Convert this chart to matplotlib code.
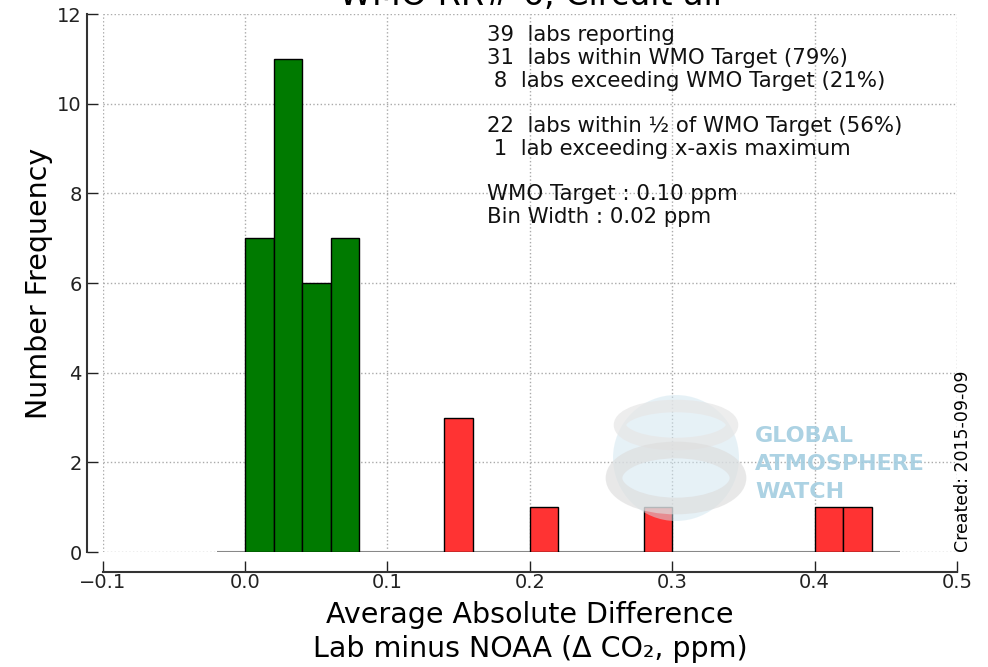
import matplotlib
matplotlib.use("Agg")
import matplotlib.pyplot as plt
from matplotlib.patches import Ellipse

# histogram bins (left edge, ppm) and counts
bin_width = 0.02
within_left = [0.00, 0.02, 0.04, 0.06]
within_count = [7, 11, 6, 7]
exceed_left = [0.14, 0.20, 0.28, 0.40, 0.42]
exceed_count = [3, 1, 1, 1, 1]
hist_range = (-0.02, 0.46)

x_ticks = [-0.1, 0.0, 0.1, 0.2, 0.3, 0.4, 0.5]
y_ticks = [0, 2, 4, 6, 8, 10, 12]

summary = ("39  labs reporting\n"
           "31  labs within WMO Target (79%)\n"
           " 8  labs exceeding WMO Target (21%)\n"
           "\n"
           "22  labs within \u00bd of WMO Target (56%)\n"
           " 1  lab exceeding x-axis maximum\n"
           "\n"
           "WMO Target : 0.10 ppm\n"
           "Bin Width : 0.02 ppm")

fig = plt.figure(figsize=(9.88, 6.67), dpi=100)
ax = fig.add_axes([0.104, 0.1724, 0.8646, 0.8066])

ax.hlines(0, hist_range[0], hist_range[1], color='#888888', lw=1.5, zorder=2)
ax.bar(within_left, within_count, width=bin_width, align='edge',
       color='#007a00', edgecolor='black', lw=1, zorder=3)
ax.bar(exceed_left, exceed_count, width=bin_width, align='edge',
       color='#ff3333', edgecolor='black', lw=1, zorder=3)

ax.set_xlim(-0.1, 0.5)
ax.set_ylim(0, 12)
ax.set_xticks(x_ticks)
ax.set_yticks(y_ticks)
ax.set_xticklabels(['\u22120.1', '0.0', '0.1', '0.2', '0.3', '0.4', '0.5'])
ax.grid(True, ls=':', color='#aaaaaa', lw=1)
ax.set_axisbelow(True)

for side in ['top', 'right']:
    ax.spines[side].set_visible(False)
ax.spines['left'].set_position(('outward', 11))
ax.spines['bottom'].set_position(('outward', 14.4))
for side in ['left', 'bottom']:
    ax.spines[side].set_color('#333333')
    ax.spines[side].set_linewidth(1.5)
ax.tick_params(direction='in', length=8, width=1, labelsize=14,
               colors='#222222')
ax.tick_params(axis='x', pad=1)
ax.tick_params(axis='y', pad=4)

ax.set_ylabel('Number Frequency', fontsize=20.5, labelpad=3)
ax.set_xlabel('Average Absolute Difference\nLab minus NOAA (\u0394 CO\u2082, ppm)',
              fontsize=20.5, labelpad=6, linespacing=1.3)

fig.text(0.537, 1 - 5 / 667, 'WMO RR# 6, Circuit all', ha='center',
         va='baseline', fontsize=24)

fig.text(0.4929, 0.962, summary, ha='left', va='top',
         fontsize=15.3, linespacing=1.17, color='#111111')

fig.text(0.975, 0.1724, 'Created: 2015-09-09', rotation=90, ha='center',
         va='bottom', fontsize=12.5)

# GAW watermark: ringed globe and lettering
globe_c = (676 / 988, 1 - 458 / 667)
fig.patches.append(Ellipse(globe_c, 126 / 988, 126 / 667, transform=fig.transFigure,
                           facecolor='#cfe5ef', alpha=0.5, edgecolor='none'))
fig.patches.append(Ellipse((globe_c[0], 1 - 425 / 667), 112 / 988, 38 / 667,
                           transform=fig.transFigure, facecolor='none',
                           edgecolor='#e6e6e6', lw=9, alpha=0.7))
fig.patches.append(Ellipse((globe_c[0], 1 - 478 / 667), 124 / 988, 56 / 667,
                           transform=fig.transFigure, facecolor='none',
                           edgecolor='#dddddd', lw=12, alpha=0.65))
fig.text(755 / 988, 1 - 498 / 667, 'GLOBAL\nATMOSPHERE\nWATCH', ha='left',
         va='baseline', fontsize=16, fontweight='bold', color='#a3cde0',
         linespacing=1.5, alpha=0.9)

fig.savefig('out.png', dpi=100)
